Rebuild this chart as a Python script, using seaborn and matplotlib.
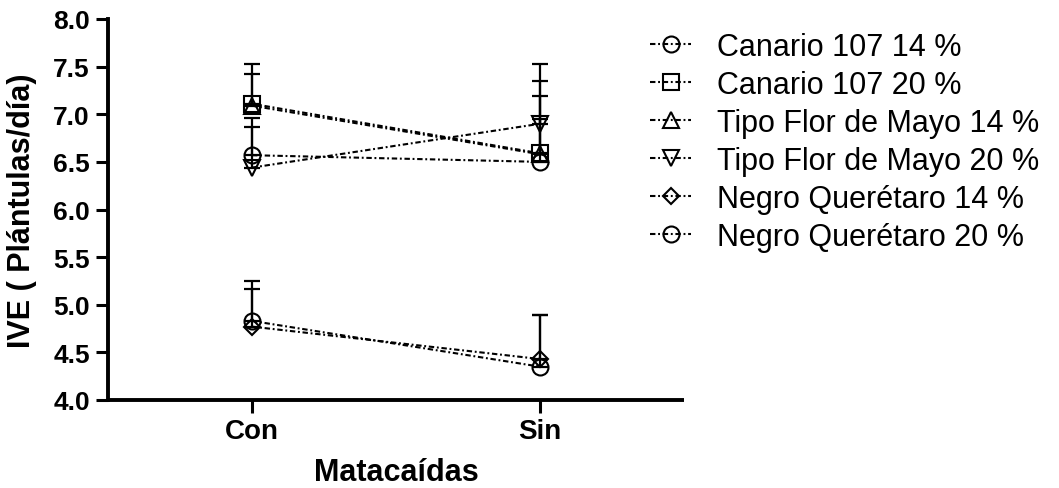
import matplotlib
matplotlib.use("Agg")
import matplotlib.pyplot as plt
import numpy as np
import pandas as pd
import seaborn as sns


categories = ["Con", "Sin"]
series = [
    "Canario 107 14 %",
    "Canario 107 20 %",
    "Tipo Flor de Mayo 14 %",
    "Tipo Flor de Mayo 20 %",
    "Negro Querétaro 14 %",
    "Negro Querétaro 20 %",
]
mean_con = [6.57, 7.11, 7.09, 6.44, 4.77, 4.83]
mean_sin = [6.50, 6.59, 6.58, 6.90, 4.43, 4.35]
se_con = [0.39, 0.42, 0.33, 0.43, 0.40, 0.42]
se_sin = [0.69, 0.76, 0.37, 0.63, 0.46, 0.54]
markers = ["o", "s", "^", "v", "D", "o"]
y_ticks = [4.0, 4.5, 5.0, 5.5, 6.0, 6.5, 7.0, 7.5, 8.0]

df = pd.DataFrame(
    {
        "serie": series * 2,
        "matacaidas": [categories[0]] * len(series) + [categories[1]] * len(series),
        "ive": mean_con + mean_sin,
        "se": se_con + se_sin,
    }
)
df["pos"] = df["matacaidas"].map({c: i for i, c in enumerate(categories)})

sns.set_style("ticks")
plt.rcParams["font.family"] = ["Liberation Sans", "DejaVu Sans"]
plt.rcParams.update(
    {
        "text.color": "black",
        "axes.labelcolor": "black",
        "xtick.color": "black",
        "ytick.color": "black",
    }
)

fig = plt.figure(figsize=(10.59, 4.89), dpi=100)
ax = fig.add_axes([108 / 1059, 1 - 401 / 489, 576 / 1059, 381 / 489])

sns.lineplot(
    data=df,
    x="pos",
    y="ive",
    hue="serie",
    style="serie",
    hue_order=series,
    style_order=series,
    palette=["black"] * len(series),
    markers=dict(zip(series, markers)),
    dashes={s: (2.6, 1.3, 0.9, 1.3) for s in series},
    markersize=11.5,
    markerfacecolor="none",
    markeredgecolor="black",
    markeredgewidth=1.5,
    linewidth=1.5,
    legend=False,
    ax=ax,
)
lines = list(ax.get_lines())
for line in lines:
    if line.get_marker() == "D":
        line.set_markersize(8.5)

# upward-only error bars
for name, grp in df.groupby("serie", sort=False):
    ax.errorbar(
        grp["pos"],
        grp["ive"],
        yerr=[np.zeros(len(grp)), grp["se"]],
        fmt="none",
        ecolor="black",
        elinewidth=1.6,
        capsize=6,
        capthick=1.6,
        zorder=1,
    )

ax.set_xlim(-0.5, 1.5)
ax.set_ylim(4.0, 8.0)
ax.set_xticks(range(len(categories)))
ax.set_xticklabels(categories, fontsize=20, fontweight="bold")
ax.set_yticks(y_ticks)
ax.set_yticklabels([f"{v:.1f}" for v in y_ticks], fontsize=19, fontweight="bold")
ax.tick_params(axis="both", length=9, width=2.2, color="black", labelcolor="black", pad=4)
ax.set_xlabel("Matacaídas", fontsize=22, fontweight="bold", labelpad=9)
ax.set_ylabel("IVE ( Plántulas/día)", fontsize=22, fontweight="bold", labelpad=12)
for side in ["top", "right"]:
    ax.spines[side].set_visible(False)
for side in ["left", "bottom"]:
    ax.spines[side].set_linewidth(2.8)
    ax.spines[side].set_color("black")
ax.spines["bottom"].set_capstyle("butt")

fig.legend(
    lines,
    series,
    loc="upper left",
    bbox_to_anchor=(650 / 1059, 1 - 33 / 489),
    frameon=False,
    fontsize=22,
    handlelength=1.35,
    handletextpad=0.85,
    labelspacing=0.26,
    borderaxespad=0,
    borderpad=0,
)

fig.savefig("out.png", dpi=100)
